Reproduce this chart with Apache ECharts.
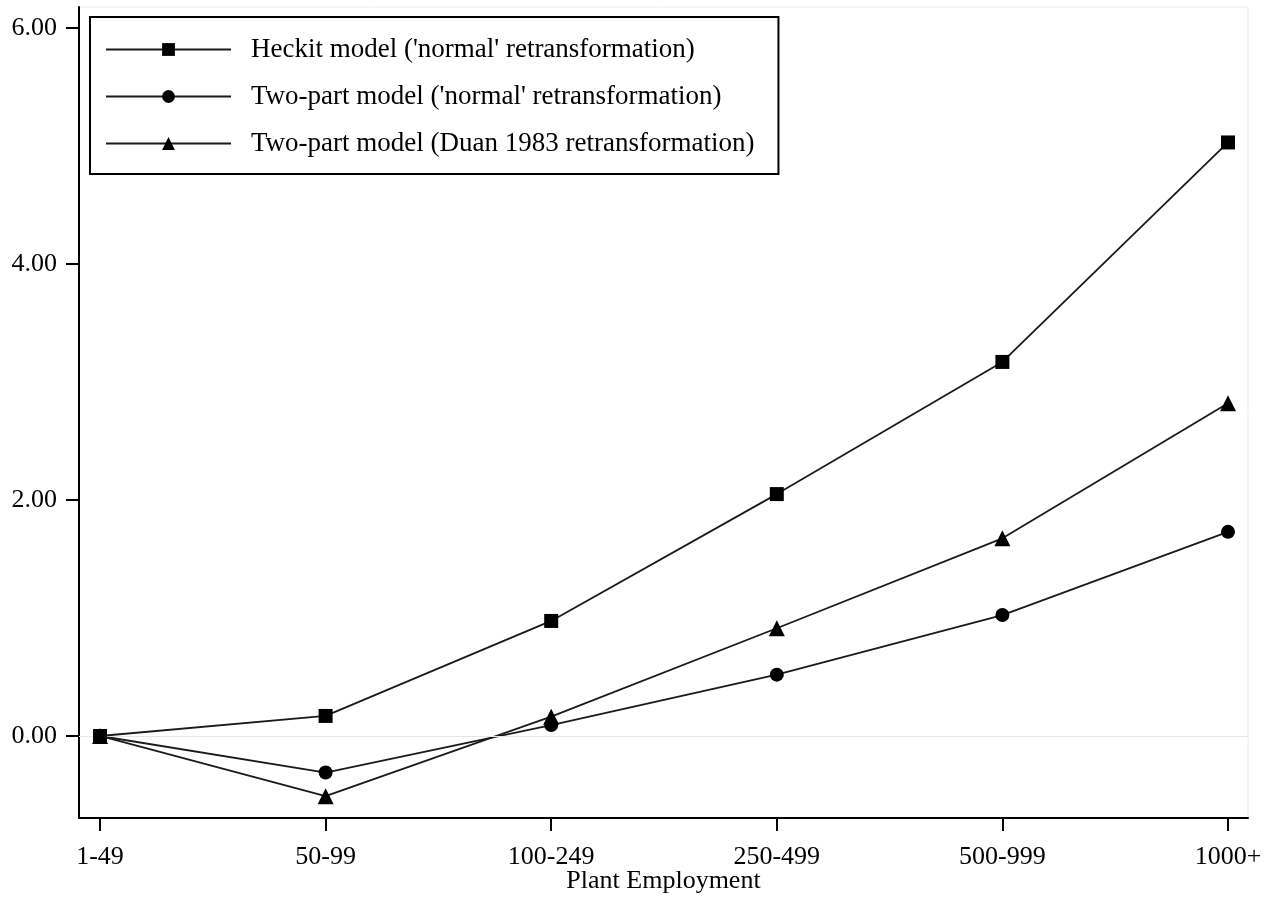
<!DOCTYPE html>
<html>
<head>
<meta charset="utf-8">
<script src="https://cdn.jsdelivr.net/npm/echarts@6/dist/echarts.min.js"></script>
<style>html,body{margin:0;padding:0;background:#fff;}#c{width:1275px;height:898px;}</style>
</head>
<body>
<div id="c"></div>
<script>
const categories = ['1-49', '50-99', '100-249', '250-499', '500-999', '1000+'];
const heckitNormal = [0, 0.17, 0.975, 2.05, 3.17, 5.03];
const twoPartNormal = [0, -0.31, 0.093, 0.52, 1.025, 1.73];
const twoPartDuan = [0, -0.51, 0.164, 0.913, 1.675, 2.82];
const yTicks = [0, 2, 4, 6];
const seriesNames = [
  "Heckit model ('normal' retransformation)",
  "Two-part model ('normal' retransformation)",
  "Two-part model (Duan 1983 retransformation)"
];

const FONT = '"Liberation Serif", "Times New Roman", serif';
const toPairs = arr => arr.map((v, i) => [i, v]);

const chart = echarts.init(document.getElementById('c'), null, {renderer: 'canvas'});
const lineStyle = {color: '#1a1a1a', width: 1.8};
const itemStyle = {color: '#000'};

chart.setOption({
  animation: false,
  backgroundColor: '#fff',
  grid: {
    left: 79, right: 27, top: 7, bottom: 80,
    outerBoundsMode: 'none',
    containLabel: false,
    show: true, borderColor: '#e9eef2', borderWidth: 1, backgroundColor: 'transparent'
  },
  legend: {
    orient: 'vertical',
    left: 90, top: 17,
    padding: [19, 24, 17, 15],
    borderColor: '#000', borderWidth: 2,
    backgroundColor: '#fff',
    itemWidth: 125, itemHeight: 16, itemGap: 20,
    textStyle: {fontFamily: FONT, fontSize: 27, color: '#000', padding: [0, 0, 0, 15]},
    data: seriesNames
  },
  xAxis: {
    type: 'value',
    min: -0.0931, max: 5.0887,
    splitLine: {show: false},
    axisLine: {show: true, onZero: false, lineStyle: {color: '#000', width: 2}},
    axisTick: {show: true, length: 13, lineStyle: {color: '#000', width: 2}, customValues: categories.map((c, i) => i)},
    axisLabel: {
      fontFamily: FONT, fontSize: 26, color: '#000', margin: 26,
      customValues: categories.map((c, i) => i),
      formatter: v => categories[Math.round(v)]
    },
    name: 'Plant Employment',
    nameLocation: 'middle',
    nameGap: 50,
    nameMoveOverlap: false,
    nameTextStyle: {fontFamily: FONT, fontSize: 26, color: '#000'}
  },
  yAxis: {
    type: 'value',
    min: -0.695, max: 6.178,
    splitLine: {show: false},
    axisLine: {show: true, onZero: false, lineStyle: {color: '#000', width: 2}},
    axisTick: {show: true, length: 13, lineStyle: {color: '#000', width: 2}, customValues: yTicks},
    axisLabel: {
      fontFamily: FONT, fontSize: 26, color: '#000', margin: 22,
      customValues: yTicks,
      formatter: v => v.toFixed(2)
    }
  },
  series: [
    {
      name: seriesNames[0], type: 'line', data: toPairs(heckitNormal),
      symbol: 'rect', symbolSize: 14, z: 5,
      lineStyle, itemStyle,
      markLine: {
        silent: true, symbol: 'none', label: {show: false},
        lineStyle: {color: '#e6e6e6', width: 1, type: 'solid'},
        emphasis: {disabled: true},
        data: [{yAxis: 0}]
      }
    },
    {
      name: seriesNames[1], type: 'line', data: toPairs(twoPartNormal),
      symbol: 'circle', symbolSize: 14, z: 4,
      lineStyle, itemStyle
    },
    {
      name: seriesNames[2], type: 'line', data: toPairs(twoPartDuan),
      symbol: 'triangle', symbolSize: 16, z: 3,
      lineStyle, itemStyle
    }
  ]
});
</script>
</body>
</html>
